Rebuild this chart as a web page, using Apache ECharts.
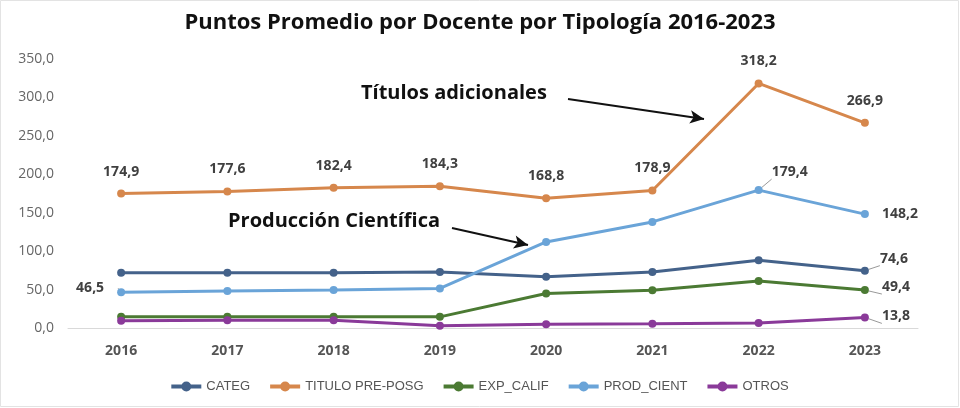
<!DOCTYPE html>
<html>
<head>
<meta charset="utf-8">
<script src="https://cdn.jsdelivr.net/npm/echarts@6/dist/echarts.min.js"></script>
<style>
  html, body { margin: 0; padding: 0; background: #fff; }
  #chart { width: 960px; height: 408px; }
</style>
</head>
<body>
<div id="chart"></div>
<script>
// datos
var years = ['2016', '2017', '2018', '2019', '2020', '2021', '2022', '2023'];
var yTicks = [0, 50, 100, 150, 200, 250, 300, 350];
var categ = [72.0, 72.0, 72.0, 73.0, 66.6, 73.0, 88.3, 74.6];
var tituloPrePosg = [174.9, 177.6, 182.4, 184.3, 168.8, 178.9, 318.2, 266.9];
var expCalif = [14.5, 14.5, 14.5, 14.5, 45.0, 49.0, 61.0, 49.4];
var prodCient = [46.5, 48.0, 49.5, 51.5, 112.0, 138.0, 179.4, 148.2];
var otros = [9.5, 10.0, 10.0, 3.0, 5.0, 5.5, 6.5, 13.8];

var fmt = function (v) { return v.toFixed(1).replace('.', ','); };

// qué puntos llevan etiqueta y dónde
var labelCfg = {
	'CATEG': { 7: { position: 'right', offset: [6, -12], line: true } },
	'TITULO PRE-POSG': { all: { position: 'top', offset: [0, -6] } },
	'EXP_CALIF': { 7: { position: 'right', offset: [8, -3], line: true } },
	'PROD_CIENT': {
		0: { position: 'left', offset: [-8, -4], line: true },
		6: { position: 'right', offset: [4, -18], line: true },
		7: { position: 'right', offset: [8, 0] }
	},
	'OTROS': { 7: { position: 'right', offset: [8, -1], line: true } }
};

var seriesDefs = [
	{ name: 'CATEG', data: categ, color: '#44628a' },
	{ name: 'TITULO PRE-POSG', data: tituloPrePosg, color: '#d6874c' },
	{ name: 'EXP_CALIF', data: expCalif, color: '#4b7a33' },
	{ name: 'PROD_CIENT', data: prodCient, color: '#6aa4d8' },
	{ name: 'OTROS', data: otros, color: '#8a3a99' }
];

var labelText = { color: '#404040', fontSize: 14, fontWeight: 'bold', fontFamily: 'Open Sans' };

function buildData(def) {
	var cfg = labelCfg[def.name] || {};
	return def.data.map(function (v, i) {
		var c = cfg[i] || cfg.all;
		var item = { value: v };
		if (c) {
			item.label = Object.assign({
				show: true,
				position: c.position,
				offset: c.offset,
				formatter: function (p) { return fmt(p.value); }
			}, labelText);
			if (c.line) {
				item.labelLine = { show: true, lineStyle: { color: '#999', width: 1 } };
			}
		}
		return item;
	});
}

var series = seriesDefs.map(function (def) {
	return {
		name: def.name,
		type: 'line',
		data: buildData(def),
		symbol: 'circle',
		symbolSize: 8,
		color: def.color,
		lineStyle: { width: 3, color: def.color },
		itemStyle: { color: def.color },
		label: { show: false },
		emphasis: { disabled: true },
		animation: false
	};
});

// flechas de anotación
series[1].markLine = {
	silent: true,
	symbol: ['none', 'arrow'],
	symbolSize: [10, 14],
	label: { show: false },
	lineStyle: { color: '#111', width: 2, type: 'solid' },
	data: [
		[{ x: 568, y: 99 }, { x: 704, y: 119 }],
		[{ x: 452, y: 228 }, { x: 528, y: 245 }]
	]
};

var chart = echarts.init(document.getElementById('chart'));
chart.setOption({
	backgroundColor: '#fff',
	title: {
		text: 'Puntos Promedio por Docente por Tipología 2016-2023',
		left: 'center',
		top: 7,
		textStyle: { fontFamily: 'Open Sans', fontSize: 22, fontWeight: 'bold', color: '#111' }
	},
	legend: {
		bottom: 10,
		left: 'center',
		icon: 'path://M0,8 L30,8 L30,12 L0,12 Z M15,5 A5,5 0 1,1 15,15 A5,5 0 1,1 15,5 Z',
		itemWidth: 30,
		itemHeight: 10,
		itemGap: 20,
		textStyle: { color: '#555', fontSize: 13, fontFamily: 'Liberation Sans' },
		data: seriesDefs.map(function (d) { return d.name; })
	},
	grid: { left: 68, right: 42, top: 59, bottom: 80 },
	xAxis: {
		type: 'category',
		data: years,
		boundaryGap: true,
		axisLine: { lineStyle: { color: '#d9d9d9', width: 1 } },
		axisTick: { show: false },
		axisLabel: { color: '#555', fontSize: 14, fontWeight: 'bold', fontFamily: 'Open Sans', margin: 16 }
	},
	yAxis: {
		type: 'value',
		min: yTicks[0],
		max: yTicks[yTicks.length - 1],
		interval: yTicks[1] - yTicks[0],
		axisLine: { show: false },
		axisTick: { show: false },
		splitLine: { show: false },
		axisLabel: {
			color: '#666', fontSize: 14, fontFamily: 'Open Sans', margin: 14,
			formatter: function (v) { return fmt(v); }
		}
	},
	graphic: [
		{ type: 'text', left: 361, top: 83, style: { text: 'Títulos adicionales', fill: '#111', font: 'bold 20px "Open Sans"' } },
		{ type: 'text', left: 228, top: 211, style: { text: 'Producción Científica', fill: '#111', font: 'bold 20px "Open Sans"' } },
		{ type: 'rect', shape: { x: 0.5, y: 0.5, width: 958, height: 406 }, style: { fill: 'none', stroke: '#e3e3e3', lineWidth: 1 }, silent: true }
	],
	series: series
});
</script>
</body>
</html>
